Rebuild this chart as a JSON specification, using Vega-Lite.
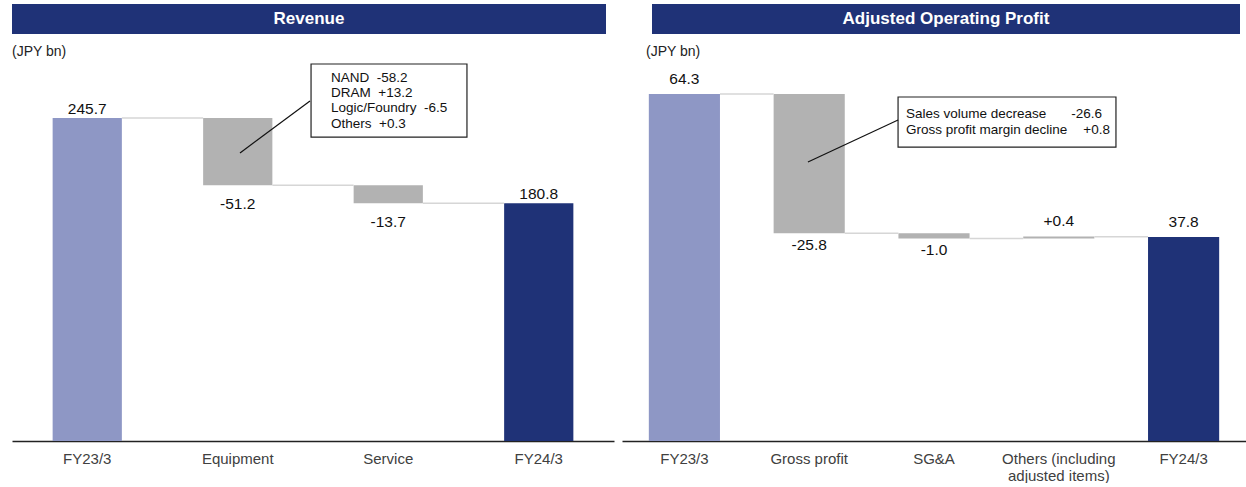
{
  "$schema": "https://vega.github.io/schema/vega-lite/v6.json",
  "padding": {"left": 12, "top": 4, "right": 0, "bottom": 0},
  "config": {
    "view": {"stroke": null},
    "font": "Liberation Sans",
    "text": {"font": "Liberation Sans"}
  },
  "spacing": 11,
  "vconcat": [
    {
      "spacing": 46,
      "hconcat": [
        {
          "width": 594, "height": 30,
          "data": {"values": [{"t": "Revenue"}]},
          "layer": [
            {"mark": {"type": "rect", "color": "#1F3277"}, "encoding": {}},
            {"mark": {"type": "text", "color": "white", "fontWeight": "bold", "fontSize": 17, "font": "Liberation Sans"}, "encoding": {"text": {"field": "t"}}}
          ]
        },
        {
          "width": 588, "height": 30,
          "data": {"values": [{"t": "Adjusted Operating Profit"}]},
          "layer": [
            {"mark": {"type": "rect", "color": "#1F3277"}, "encoding": {}},
            {"mark": {"type": "text", "color": "white", "fontWeight": "bold", "fontSize": 17, "font": "Liberation Sans"}, "encoding": {"text": {"field": "t"}}}
          ]
        }
      ]
    },
    {
      "spacing": 8,
      "hconcat": [
        {
          "width": 602, "height": 380,
          "title": {"text": "(JPY bn)", "anchor": "start", "frame": "group", "fontSize": 14, "fontWeight": "normal", "font": "Liberation Sans", "color": "#222222", "offset": 2},
          "layer": [
            {
              "layer": [
                {
                  "data": {"values": [
                    {"cat": "FY23/3", "start": 0, "end": 245.7, "value": 245.7, "kind": "base", "label": "245.7"},
                    {"cat": "Equipment", "start": 245.7, "end": 194.5, "value": -51.2, "kind": "change", "label": "-51.2"},
                    {"cat": "Service", "start": 194.5, "end": 180.8, "value": -13.7, "kind": "change", "label": "-13.7"},
                    {"cat": "FY24/3", "start": 0, "end": 180.8, "value": 180.8, "kind": "result", "label": "180.8"}
                  ]},
                  "layer": [
                    {
                      "mark": {"type": "bar"},
                      "encoding": {
                        "x": {"field": "cat", "type": "nominal", "sort": null,
                              "scale": {"domain": ["FY23/3", "Equipment", "Service", "FY24/3"], "paddingInner": 0.54, "paddingOuter": 0.27},
                              "axis": {"title": null, "ticks": false, "labelAngle": 0, "labelPadding": 10, "labelFontSize": 15, "labelFont": "Liberation Sans", "labelColor": "#404040", "domainColor": "#222222", "domainWidth": 1.5, "labelLimit": 300}},
                        "y": {"field": "start", "type": "quantitative", "scale": {"domain": [0, 289.07], "nice": false, "zero": false}, "axis": null},
                        "y2": {"field": "end"},
                        "color": {"field": "kind", "type": "nominal", "scale": {"domain": ["base", "change", "result"], "range": ["#8E97C5", "#B2B2B2", "#1F3277"]}, "legend": null}
                      }
                    },
                    {
                      "transform": [{"filter": "datum.value >= 0"}],
                      "mark": {"type": "text", "baseline": "alphabetic", "dy": -4, "fontSize": 15.5, "color": "#111111"},
                      "encoding": {
                        "x": {"field": "cat", "type": "nominal", "sort": null},
                        "y": {"field": "end", "type": "quantitative"},
                        "text": {"field": "label"}
                      }
                    },
                    {
                      "transform": [{"filter": "datum.value < 0"}],
                      "mark": {"type": "text", "baseline": "top", "dy": 12, "fontSize": 15.5, "color": "#111111"},
                      "encoding": {
                        "x": {"field": "cat", "type": "nominal", "sort": null},
                        "y": {"field": "end", "type": "quantitative"},
                        "text": {"field": "label"}
                      }
                    }
                  ]
                },
                {
                  "data": {"values": [
                    {"from": "FY23/3", "to": "Equipment", "level": 245.7},
                    {"from": "Equipment", "to": "Service", "level": 194.5},
                    {"from": "Service", "to": "FY24/3", "level": 180.8}
                  ]},
                  "mark": {"type": "rule", "color": "#D6D6D6", "strokeWidth": 1.5},
                  "encoding": {
                    "x": {"field": "from", "type": "nominal", "bandPosition": 1},
                    "x2": {"field": "to", "bandPosition": 0},
                    "y": {"field": "level", "type": "quantitative"}
                  }
                }
              ]
            },
            {
              "layer": [
                {
                  "data": {"values": [{"x": 1.987, "x2": 3.023, "y": 286.8, "y2": 231.2}]},
                  "mark": {"type": "rect", "fill": "white", "stroke": "#222222", "strokeWidth": 1.2},
                  "encoding": {
                    "x": {"field": "x", "type": "quantitative", "scale": {"domain": [0, 4], "nice": false, "zero": false}, "axis": null},
                    "x2": {"field": "x2"},
                    "y": {"field": "y", "type": "quantitative"},
                    "y2": {"field": "y2"}
                  }
                },
                {
                  "data": {"values": [{"x": 1.98, "x2": 1.515, "y": 258.6, "y2": 219.1}]},
                  "mark": {"type": "rule", "color": "#111111", "strokeWidth": 1.2},
                  "encoding": {
                    "x": {"field": "x", "type": "quantitative"},
                    "x2": {"field": "x2"},
                    "y": {"field": "y", "type": "quantitative"},
                    "y2": {"field": "y2"}
                  }
                },
                {
                  "data": {"values": [
                    {"x": 2.12, "y": 276.1, "t": "NAND\u00a0\u00a0-58.2"},
                    {"x": 2.12, "y": 264.7, "t": "DRAM\u00a0\u00a0+13.2"},
                    {"x": 2.12, "y": 253.3, "t": "Logic/Foundry\u00a0\u00a0-6.5"},
                    {"x": 2.12, "y": 241.1, "t": "Others\u00a0\u00a0+0.3"}
                  ]},
                  "mark": {"type": "text", "align": "left", "baseline": "middle", "fontSize": 13.5, "color": "#111111"},
                  "encoding": {
                    "x": {"field": "x", "type": "quantitative"},
                    "y": {"field": "y", "type": "quantitative"},
                    "text": {"field": "t"}
                  }
                }
              ]
            }
          ],
          "resolve": {"scale": {"x": "independent"}, "axis": {"x": "independent"}}
        },
        {
          "width": 624, "height": 380,
          "title": {"text": "(JPY bn)", "anchor": "start", "frame": "group", "fontSize": 14, "fontWeight": "normal", "font": "Liberation Sans", "color": "#222222", "offset": 2, "dx": 24},
          "layer": [
            {
              "layer": [
                {
                  "data": {"values": [
                    {"cat": "FY23/3", "start": 0, "end": 64.3, "value": 64.3, "kind": "base", "label": "64.3"},
                    {"cat": "Gross profit", "start": 64.3, "end": 38.5, "value": -25.8, "kind": "change", "label": "-25.8"},
                    {"cat": "SG&A", "start": 38.5, "end": 37.5, "value": -1.0, "kind": "change", "label": "-1.0"},
                    {"cat": "Others (including adjusted items)", "start": 37.5, "end": 37.9, "value": 0.4, "kind": "change", "label": "+0.4"},
                    {"cat": "FY24/3", "start": 0, "end": 37.8, "value": 37.8, "kind": "result", "label": "37.8"}
                  ]},
                  "layer": [
                    {
                      "mark": {"type": "bar"},
                      "encoding": {
                        "x": {"field": "cat", "type": "nominal", "sort": null,
                              "scale": {"domain": ["FY23/3", "Gross profit", "SG&A", "Others (including adjusted items)", "FY24/3"], "paddingInner": 0.43, "paddingOuter": 0.215},
                              "axis": {"title": null, "ticks": false, "labelAngle": 0, "labelPadding": 10, "labelFontSize": 15, "labelFont": "Liberation Sans", "labelColor": "#404040", "domainColor": "#222222", "domainWidth": 1.5, "labelLimit": 300, "labelLineHeight": 17,
                                       "labelExpr": "datum.label == 'Others (including adjusted items)' ? ['Others (including', 'adjusted items)'] : datum.label"}},
                        "y": {"field": "start", "type": "quantitative", "scale": {"domain": [0, 70.41], "nice": false, "zero": false}, "axis": null},
                        "y2": {"field": "end"},
                        "color": {"field": "kind", "type": "nominal", "scale": {"domain": ["base", "change", "result"], "range": ["#8E97C5", "#B2B2B2", "#1F3277"]}, "legend": null}
                      }
                    },
                    {
                      "transform": [{"filter": "datum.value >= 0"}],
                      "mark": {"type": "text", "baseline": "alphabetic", "dy": -10, "fontSize": 15.5, "color": "#111111"},
                      "encoding": {
                        "x": {"field": "cat", "type": "nominal", "sort": null},
                        "y": {"field": "end", "type": "quantitative"},
                        "text": {"field": "label"}
                      }
                    },
                    {
                      "transform": [{"filter": "datum.value < 0"}],
                      "mark": {"type": "text", "baseline": "top", "dy": 4.5, "fontSize": 15.5, "color": "#111111"},
                      "encoding": {
                        "x": {"field": "cat", "type": "nominal", "sort": null},
                        "y": {"field": "end", "type": "quantitative"},
                        "text": {"field": "label"}
                      }
                    }
                  ]
                },
                {
                  "data": {"values": [
                    {"from": "FY23/3", "to": "Gross profit", "level": 64.3},
                    {"from": "Gross profit", "to": "SG&A", "level": 38.5},
                    {"from": "SG&A", "to": "Others (including adjusted items)", "level": 37.5},
                    {"from": "Others (including adjusted items)", "to": "FY24/3", "level": 37.85}
                  ]},
                  "mark": {"type": "rule", "color": "#D6D6D6", "strokeWidth": 1.5},
                  "encoding": {
                    "x": {"field": "from", "type": "nominal", "bandPosition": 1},
                    "x2": {"field": "to", "bandPosition": 0},
                    "y": {"field": "level", "type": "quantitative"}
                  }
                }
              ]
            },
            {
              "layer": [
                {
                  "data": {"values": [{"x": 2.212, "x2": 3.958, "y": 63.74, "y2": 54.47}]},
                  "mark": {"type": "rect", "fill": "white", "stroke": "#222222", "strokeWidth": 1.2},
                  "encoding": {
                    "x": {"field": "x", "type": "quantitative", "scale": {"domain": [0, 5], "nice": false, "zero": false}, "axis": null},
                    "x2": {"field": "x2"},
                    "y": {"field": "y", "type": "quantitative"},
                    "y2": {"field": "y2"}
                  }
                },
                {
                  "data": {"values": [{"x": 2.212, "x2": 1.49, "y": 59.48, "y2": 51.7}]},
                  "mark": {"type": "rule", "color": "#111111", "strokeWidth": 1.2},
                  "encoding": {
                    "x": {"field": "x", "type": "quantitative"},
                    "x2": {"field": "x2"},
                    "y": {"field": "y", "type": "quantitative"},
                    "y2": {"field": "y2"}
                  }
                },
                {
                  "data": {"values": [
                    {"x": 2.276, "y": 60.59, "t": "Sales volume decrease"},
                    {"x": 2.276, "y": 57.62, "t": "Gross profit margin decline"}
                  ]},
                  "mark": {"type": "text", "align": "left", "baseline": "middle", "fontSize": 13.5, "color": "#111111"},
                  "encoding": {
                    "x": {"field": "x", "type": "quantitative"},
                    "y": {"field": "y", "type": "quantitative"},
                    "text": {"field": "t"}
                  }
                },
                {
                  "data": {"values": [
                    {"x": 3.846, "y": 60.59, "t": "-26.6"},
                    {"x": 3.91, "y": 57.62, "t": "+0.8"}
                  ]},
                  "mark": {"type": "text", "align": "right", "baseline": "middle", "fontSize": 13.5, "color": "#111111"},
                  "encoding": {
                    "x": {"field": "x", "type": "quantitative"},
                    "y": {"field": "y", "type": "quantitative"},
                    "text": {"field": "t"}
                  }
                }
              ]
            }
          ],
          "resolve": {"scale": {"x": "independent"}, "axis": {"x": "independent"}}
        }
      ]
    }
  ]
}
